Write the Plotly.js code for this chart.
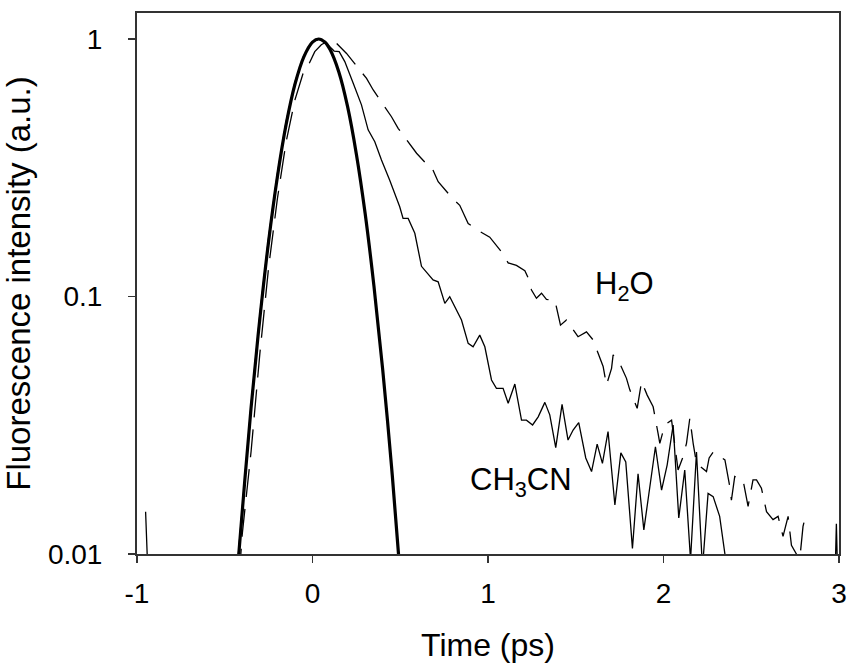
<!DOCTYPE html>
<html>
<head>
<meta charset="utf-8">
<script src="https://cdn.plot.ly/plotly-3.0.1.min.js"></script>
<style>html,body{margin:0;padding:0;background:#fff;}#chart{width:848px;height:663px;}</style>
</head>
<body>
<div id="chart"></div>
<script>
// Instrument response (thick line)
var irfTime = [-0.45,-0.42,-0.35,-0.30,-0.25,-0.20,-0.15,-0.10,-0.05,0.00,0.035,0.07,0.10,0.15,0.20,0.25,0.30,0.35,0.40,0.45,0.49,0.52];
var irfValue = [0.0053,0.010,0.037,0.082,0.164,0.292,0.467,0.667,0.851,0.973,1.0,0.973,0.910,0.745,0.546,0.357,0.210,0.110,0.052,0.022,0.010,0.0053];

// CH3CN (thin solid)
var ch3cnTime = [-0.951,-0.93,-0.6,-0.45,-0.42,-0.35,-0.30,-0.25,-0.20,-0.15,-0.10,-0.05,0.00,0.04,0.08,0.123,0.152,0.184,0.232,0.279,0.317,0.355,0.393,0.44,0.497,0.516,0.545,0.583,0.621,0.687,0.716,0.754,0.782,0.849,0.887,0.915,0.953,0.982,1.02,1.048,1.086,1.115,1.153,1.191,1.219,1.254,1.286,1.324,1.352,1.386,1.422,1.456,1.485,1.517,1.557,1.59,1.622,1.652,1.684,1.723,1.757,1.785,1.823,1.855,1.888,1.922,1.954,1.989,2.021,2.055,2.087,2.121,2.154,2.188,2.222,2.254,2.283,2.32,2.35,2.38,2.6,2.97,2.985,3.0];
var ch3cnValue = [0.0146,0.006,0.003,0.005,0.0105,0.038,0.085,0.17,0.30,0.48,0.68,0.86,0.975,1.0,0.96,0.898,0.893,0.817,0.673,0.555,0.444,0.399,0.339,0.283,0.223,0.201,0.201,0.176,0.131,0.116,0.114,0.094,0.0998,0.081,0.0658,0.0638,0.0708,0.0638,0.0474,0.044,0.044,0.0385,0.0457,0.0331,0.0331,0.0317,0.0341,0.0388,0.0347,0.0259,0.0381,0.0277,0.0303,0.0324,0.0236,0.0209,0.0267,0.0225,0.0299,0.0155,0.0247,0.0228,0.0105,0.0205,0.0124,0.0185,0.0261,0.0177,0.0222,0.0317,0.0138,0.0212,0.0095,0.0249,0.0088,0.0172,0.0167,0.014,0.010,0.006,0.004,0.005,0.0131,0.005];

// H2O (dashed)
var h2oTime = [-0.45,-0.40,-0.35,-0.30,-0.25,-0.20,-0.15,-0.10,-0.05,-0.02,0.013,0.05,0.098,0.127,0.194,0.308,0.346,0.45,0.488,0.593,0.65,0.678,0.716,0.744,0.801,0.839,0.887,0.953,1.01,1.077,1.115,1.162,1.21,1.229,1.248,1.276,1.305,1.333,1.381,1.413,1.447,1.513,1.561,1.599,1.656,1.675,1.704,1.713,1.751,1.789,1.808,1.85,1.865,1.875,1.907,1.941,1.969,1.979,2.007,2.046,2.083,2.112,2.131,2.15,2.169,2.188,2.245,2.26,2.283,2.35,2.378,2.387,2.406,2.453,2.482,2.51,2.53,2.558,2.587,2.624,2.653,2.681,2.71,2.729,2.776,2.795,2.815];
var h2oValue = [0.004,0.012,0.025,0.06,0.13,0.24,0.40,0.58,0.75,0.80,0.893,0.95,0.99,0.977,0.879,0.703,0.634,0.499,0.45,0.36,0.327,0.319,0.279,0.265,0.239,0.226,0.192,0.179,0.17,0.149,0.135,0.132,0.126,0.118,0.106,0.0984,0.103,0.0975,0.0968,0.0774,0.0811,0.0698,0.0729,0.0678,0.0535,0.0453,0.0526,0.0593,0.055,0.0481,0.0434,0.0368,0.0434,0.0467,0.0414,0.0373,0.0294,0.0269,0.0317,0.0331,0.0212,0.0239,0.0269,0.0337,0.0269,0.0225,0.0209,0.0236,0.0249,0.0232,0.0182,0.0162,0.02,0.0194,0.0153,0.0194,0.0194,0.018,0.0146,0.0136,0.014,0.0117,0.014,0.0108,0.0095,0.0128,0.0146];

var xTickVals = [-1,0,1,2,3];
var xTickText = ['-1','0','1','2','3'];
var yTickVals = [0.01,0.1,1];
var yTickText = ['0.01','0.1','1'];

var FONT = 'Liberation Sans, Arial, sans-serif';

var traces = [
  {x: h2oTime, y: h2oValue, type: 'scatter', mode: 'lines', name: 'H2O',
   line: {color: '#000', width: 1.3, dash: '28px,12px'}},
  {x: ch3cnTime, y: ch3cnValue, type: 'scatter', mode: 'lines', name: 'CH3CN',
   line: {color: '#000', width: 1.3}},
  {x: irfTime, y: irfValue, type: 'scatter', mode: 'lines', name: 'IRF',
   line: {color: '#000', width: 3.2, shape: 'spline'}}
];

var layout = {
  width: 848, height: 663,
  margin: {l: 137, r: 9, t: 13, b: 109},
  paper_bgcolor: '#fff', plot_bgcolor: '#fff',
  showlegend: false,
  font: {family: FONT, color: '#000', size: 28},
  xaxis: {
    range: [-1, 3], tickvals: xTickVals, ticktext: xTickText,
    showgrid: false, zeroline: false,
    showline: true, mirror: true, linecolor: '#333', linewidth: 2,
    ticks: 'outside', ticklen: 7, tickwidth: 1.5, tickcolor: '#333',
    tickfont: {family: FONT, size: 28, color: '#000'},
    ticklabelstandoff: 6,
    title: {text: 'Time (ps)', font: {family: FONT, size: 32, color: '#000'}, standoff: 28}
  },
  yaxis: {
    type: 'log', range: [-2, 0.101], tickvals: yTickVals, ticktext: yTickText,
    showgrid: false, zeroline: false,
    showline: true, mirror: true, linecolor: '#333', linewidth: 2,
    ticks: 'outside', ticklen: 7, tickwidth: 1.5, tickcolor: '#333',
    tickfont: {family: FONT, size: 28, color: '#000'},
    ticklabelstandoff: 20,
    title: {text: 'Fluorescence intensity (a.u.)', font: {family: FONT, size: 33, color: '#000'}, standoff: 14}
  },
  annotations: [
    {x: 1.78, y: -0.96, xref: 'x', yref: 'y', text: 'H<sub>2</sub>O', showarrow: false,
     xanchor: 'center', yanchor: 'middle', font: {family: FONT, size: 31, color: '#000'}},
    {x: 1.19, y: -1.72, xref: 'x', yref: 'y', text: 'CH<sub>3</sub>CN', showarrow: false,
     xanchor: 'center', yanchor: 'middle', font: {family: FONT, size: 31, color: '#000'}}
  ]
};

Plotly.newPlot('chart', traces, layout, {displayModeBar: false, staticPlot: true});
</script>
</body>
</html>
